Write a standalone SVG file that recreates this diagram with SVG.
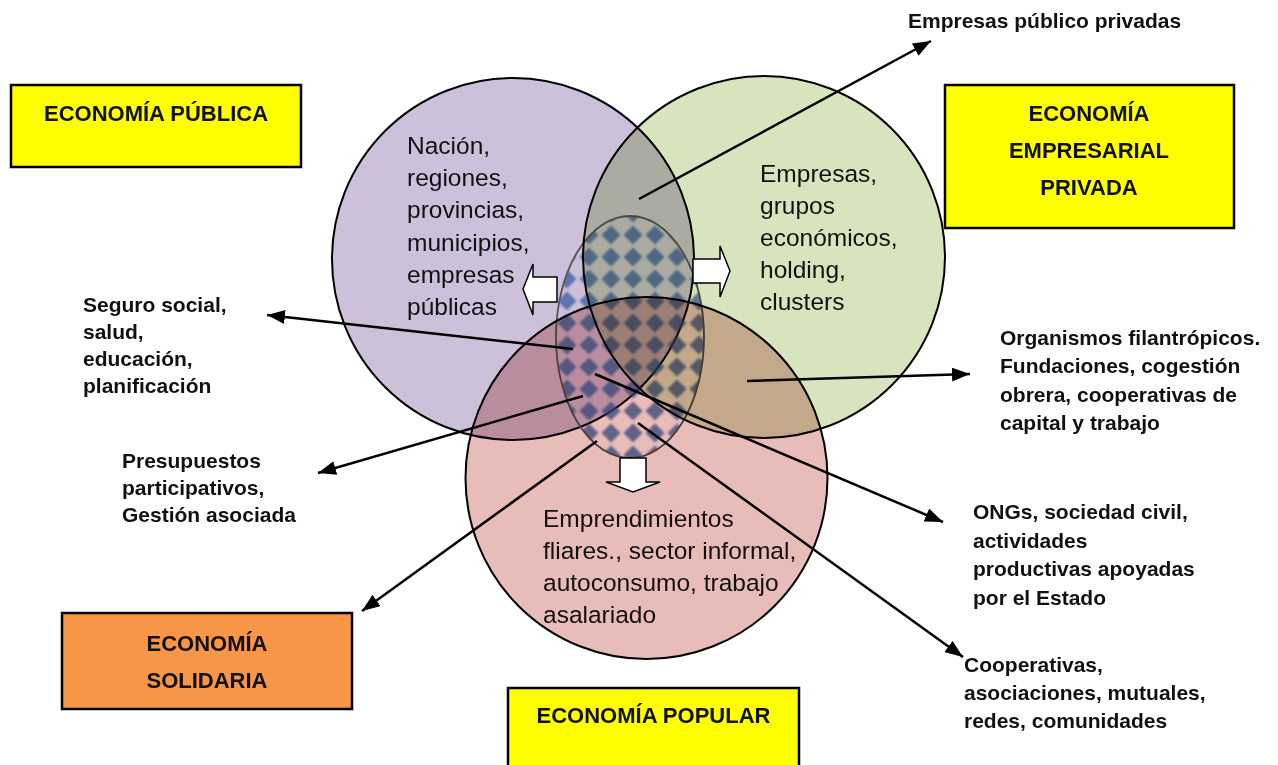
<svg xmlns="http://www.w3.org/2000/svg" width="1278" height="765" viewBox="0 0 1278 765">
<style>
.circ{stroke:#000;stroke-width:2}
.ctext{font-family:"Liberation Sans",Arial,sans-serif;font-size:24.5px;fill:#111}
.lbl{font-family:"Liberation Sans",Arial,sans-serif;font-size:21px;font-weight:bold;fill:#111}
.box{stroke:#000;stroke-width:2.5}
.btext{font-family:"Liberation Sans",Arial,sans-serif;font-size:22px;font-weight:bold;fill:#111;text-anchor:middle}
.conn{stroke:#000;stroke-width:2.5;fill:none;marker-end:url(#ah)}
.blk{fill:#fff;stroke:#000;stroke-width:1.5}
</style>
<defs>
<filter id="soft" x="-20%" y="-20%" width="140%" height="140%"><feGaussianBlur stdDeviation="0.8"/></filter>
<pattern id="diam" patternUnits="userSpaceOnUse" x="6" y="4" width="22" height="22">
<polygon points="11,1.5 20.5,11 11,20.5 1.5,11" fill="#30559f" fill-opacity="0.72" filter="url(#soft)"/>
</pattern>
<marker id="ah" viewBox="0 0 18 14" refX="18" refY="7" markerWidth="18" markerHeight="14" markerUnits="userSpaceOnUse" orient="auto">
<path d="M0,0 L18,7 L0,14 z" fill="#000"/>
</marker>
</defs>
<rect width="1278" height="765" fill="#fff"/>

<g id="economia-publica-circle">
<circle class="circ" cx="513" cy="259" r="181" fill="#ccc0da"/>
<text class="ctext" x="407"><tspan x="407" y="154">Nación,</tspan><tspan x="407" y="186">regiones,</tspan><tspan x="407" y="218">provincias,</tspan><tspan x="407" y="251">municipios,</tspan><tspan x="407" y="283">empresas</tspan><tspan x="407" y="315">públicas</tspan></text>
</g>

<g id="centro-solidaria">
<ellipse cx="630" cy="337" rx="74" ry="121" fill="url(#diam)" stroke="#555" stroke-width="1.8"/>
</g>

<g id="economia-privada-circle" style="mix-blend-mode:multiply">
<circle class="circ" cx="764" cy="257" r="181" fill="#d7e4bd"/>
<text class="ctext"><tspan x="760" y="182">Empresas,</tspan><tspan x="760" y="214">grupos</tspan><tspan x="760" y="246">económicos,</tspan><tspan x="760" y="278">holding,</tspan><tspan x="760" y="310">clusters</tspan></text>
</g>

<g id="economia-popular-circle" style="mix-blend-mode:multiply">
<circle class="circ" cx="646.5" cy="478" r="181" fill="#e8bcb9"/>
<text class="ctext"><tspan x="543" y="527">Emprendimientos</tspan><tspan x="543" y="559">fliares., sector informal,</tspan><tspan x="543" y="591">autoconsumo, trabajo</tspan><tspan x="543" y="623">asalariado</tspan></text>
</g>

<g id="block-arrows">
<polygon class="blk" points="523,289 533,264 533,277 557,277 557,302 533,302 533,315"/>
<polygon class="blk" points="693,259 720,259 720,246 730,271 720,297 720,283 693,283"/>
<polygon class="blk" points="620,458 646,458 646,482 660,482 633,492 606,482 620,482"/>
</g>

<g id="connectors">
<line class="conn" x1="639" y1="199" x2="931" y2="41"/>
<line class="conn" x1="573" y1="349" x2="267" y2="315"/>
<line class="conn" x1="583" y1="396" x2="318" y2="473"/>
<line class="conn" x1="597" y1="441" x2="362" y2="611"/>
<line class="conn" x1="595" y1="374" x2="943" y2="522"/>
<line class="conn" x1="638" y1="423" x2="963" y2="657"/>
<line class="conn" x1="747" y1="381" x2="970" y2="374"/>
</g>

<g id="box-publica">
<rect class="box" x="11" y="85" width="290" height="82" fill="#ffff00"/>
<text class="btext" x="156" y="121">ECONOMÍA PÚBLICA</text>
</g>
<g id="box-privada">
<rect class="box" x="945" y="85" width="289" height="143" fill="#ffff00"/>
<text class="btext"><tspan x="1089" y="121">ECONOMÍA</tspan><tspan x="1089" y="158">EMPRESARIAL</tspan><tspan x="1089" y="195">PRIVADA</tspan></text>
</g>
<g id="box-solidaria">
<rect class="box" x="62" y="613" width="290" height="96" fill="#f79646"/>
<text class="btext"><tspan x="207" y="651">ECONOMÍA</tspan><tspan x="207" y="688">SOLIDARIA</tspan></text>
</g>
<g id="box-popular">
<rect class="box" x="508" y="688" width="291" height="82" fill="#ffff00"/>
<text class="btext" x="653.5" y="723">ECONOMÍA POPULAR</text>
</g>

<g id="label-publico-privadas"><text class="lbl" x="908" y="28">Empresas público privadas</text></g>
<g id="label-seguro"><text class="lbl"><tspan x="83" y="312">Seguro social,</tspan><tspan x="83" y="339">salud,</tspan><tspan x="83" y="366">educación,</tspan><tspan x="83" y="393">planificación</tspan></text></g>
<g id="label-presupuestos"><text class="lbl"><tspan x="122" y="468">Presupuestos</tspan><tspan x="122" y="495">participativos,</tspan><tspan x="122" y="522">Gestión asociada</tspan></text></g>
<g id="label-organismos"><text class="lbl"><tspan x="1000" y="345">Organismos filantrópicos.</tspan><tspan x="1000" y="373">Fundaciones, cogestión</tspan><tspan x="1000" y="402">obrera, cooperativas de</tspan><tspan x="1000" y="430">capital y trabajo</tspan></text></g>
<g id="label-ongs"><text class="lbl"><tspan x="973" y="519">ONGs, sociedad civil,</tspan><tspan x="973" y="548">actividades</tspan><tspan x="973" y="576">productivas apoyadas</tspan><tspan x="973" y="605">por el Estado</tspan></text></g>
<g id="label-cooperativas"><text class="lbl"><tspan x="964" y="672">Cooperativas,</tspan><tspan x="964" y="700">asociaciones, mutuales,</tspan><tspan x="964" y="728">redes, comunidades</tspan></text></g>
</svg>
